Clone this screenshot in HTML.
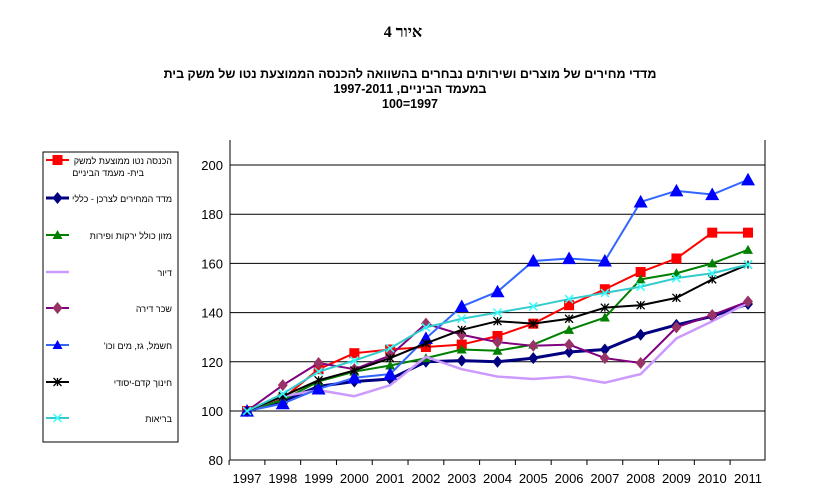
<!DOCTYPE html>
<html><head><meta charset="utf-8"><style>
body{margin:0;background:#fff;width:816px;height:492px;overflow:hidden}
svg{display:block;font-family:"Liberation Sans","Noto Sans CJK SC",sans-serif}
</style></head><body>
<svg id="c" width="816" height="492" viewBox="0 0 816 492">
<text x="403" y="37" text-anchor="middle" font-family="Liberation Serif, serif" font-weight="bold" font-size="16" direction="rtl">איור 4</text>
<text x="410" y="78" text-anchor="middle" font-weight="bold" font-size="12.5" direction="rtl">מדדי מחירים של מוצרים ושירותים נבחרים בהשוואה להכנסה הממוצעת נטו של משק בית</text>
<text x="410" y="93" text-anchor="middle" font-weight="bold" font-size="12.5" direction="rtl">במעמד הביניים, 1997-2011</text>
<text x="410" y="108" text-anchor="middle" font-weight="bold" font-size="12.5">100=1997</text>
<rect x="43" y="152" width="135" height="290" fill="#fff" stroke="#000" stroke-width="1"/>
<g id="grid"></g><g id="series"></g><g id="legend"></g>
</svg>
<script>
const years=[1997,1998,1999,2000,2001,2002,2003,2004,2005,2006,2007,2008,2009,2010,2011];
const yTicks=[80,100,120,140,160,180,200];
const income=[100,105,117,123.5,125,126,127,130.5,135.5,143,149.5,156.5,162,172.5,172.5];
const cpi=[100,104,110,112,113,120,120.5,120,121.5,124,125,131,135,138.5,143.5];
const food=[100,104.5,112,116,118.5,121.5,125,124.5,127,133,138,153.5,156,160,165.5];
const housing=[100,106,108.5,106,110.5,122,117,114,113,114,111.5,115,129.5,136.5,144];
const rent=[100,110.5,119.5,117,122.5,135.5,131,128,126.5,127,121.5,119.5,134,139,144.5];
const utilities=[100,103,109,113.5,115,129.5,142.5,148.5,161,162,161,185,189.5,188,194];
const education=[100,106,112.5,116.5,121.5,127.5,133,136.5,135.5,137.5,142,143,146,153.5,159.5];
const health=[100,107,116,120.5,125.5,134,137.5,140,142.5,145.5,148,150.5,154,156,159.5];
const names=["הכנסה נטו ממוצעת למשק","מדד המחירים לצרכן - כללי","מזון כולל ירקות ופירות","דיור","שכר דירה","חשמל, גז, מים וכו'","חינוך קדם-יסודי","בריאות"];
const NS="http://www.w3.org/2000/svg";
const X0=230,X1=765,Y0=140,Y1=460;
const x=i=>247+i*(748-247)/(years.length-1);
const y=v=>411-(v-100)*2.46;
function el(t,a,p){const e=document.createElementNS(NS,t);for(const k in a)e.setAttribute(k,a[k]);p.appendChild(e);return e;}
const g=document.getElementById('grid');
yTicks.forEach(v=>{
 if(v>80){const l=el('line',{x1:X0,x2:X1,y1:y(v),y2:y(v),stroke:'#000','stroke-width':1},g);
 
 }
 const t=el('text',{x:X0-7,y:y(v)+5,'text-anchor':'end','font-size':13},g);t.textContent=v;
 
 
});
const ax=el('path',{d:`M${X0},${Y0}V${Y1}H${X1}V${Y0}`,fill:'none',stroke:'#000','stroke-width':1},g);


years.forEach((yr,i)=>{
 const t=el('text',{x:x(i),y:483,'text-anchor':'middle','font-size':13},g);t.textContent=yr;
 
 
 el('line',{x1:x(i)-17.9,x2:x(i)-17.9,y1:Y1,y2:Y1+5,stroke:'#000'},g);
});
const series=[[income,'#ff0000','sq',2,'#ff0000'],[cpi,'#000080','dia',3,'#000080'],[food,'#008000','tri',2,'#008000'],[housing,'#cc99ff','none',2.5,''],[rent,'#800080','dia',2,'#993366'],[utilities,'#3366ff','tri',2,'#0000ff'],[education,'#000000','star',2,'#000'],[health,'#33cccc','x',2,'#33ffff']];
function marker(type,cx,cy,col,p,s){
 if(type==='sq')return el('rect',{x:cx-5,y:cy-5,width:10,height:10,fill:col},p);
 if(type==='dia')return el('path',{d:`M${cx},${cy-6}L${cx+5},${cy}L${cx},${cy+6}L${cx-5},${cy}Z`,fill:col},p);
 if(type==='tri')return el('path',{d:`M${cx},${cy-(s||6)}L${cx+(s||6)},${cy+(s||6)*0.8}L${cx-(s||6)},${cy+(s||6)*0.8}Z`,fill:col},p);
 if(type==='star')return el('path',{d:`M${cx-4},${cy-4}L${cx+4},${cy+4}M${cx+4},${cy-4}L${cx-4},${cy+4}M${cx},${cy-4}V${cy+4}`,stroke:col,'stroke-width':1.3},p);
 if(type==='x')return el('path',{d:`M${cx-4},${cy-4}L${cx+4},${cy+4}M${cx+4},${cy-4}L${cx-4},${cy+4}`,stroke:col,'stroke-width':1.5},p);
 return null;
}
const sg=document.getElementById('series');
series.forEach((s,k)=>{
 const [data,col,mk,w,mc]=s;
 const grp=el('g',{},sg);
 
 
 el('polyline',{points:data.map((v,i)=>x(i)+','+y(v)).join(' '),fill:'none',stroke:col,'stroke-width':w,'stroke-linejoin':'round'},grp);
 data.forEach((v,i)=>{const m=marker(mk,x(i),y(v),mc,grp,mk==='tri'&&k===5?7:5);
  if(m){
  }});
});
const lg=document.getElementById('legend');
const ly=[163,201,238,275,311,348,385,421];
series.forEach((s,k)=>{
 const [data,col,mk,w,mc]=s;
 const e=el('g',{},lg);
 
 
 el('line',{x1:46,x2:69,y1:ly[k]-3,y2:ly[k]-3,stroke:col,'stroke-width':w},e);
 marker(mk,57.5,ly[k]-3,mc,e,5);
 const t=el('text',{x:172,y:ly[k]+1,'text-anchor':'start','font-size':9,direction:'rtl'},e);
 t.textContent=names[k];
 if(k===0){const t2=el('text',{x:144,y:ly[k]+13,'text-anchor':'start','font-size':9,direction:'rtl'},e);t2.textContent="בית- מעמד הביניים";}
});
</script>
</body></html>
